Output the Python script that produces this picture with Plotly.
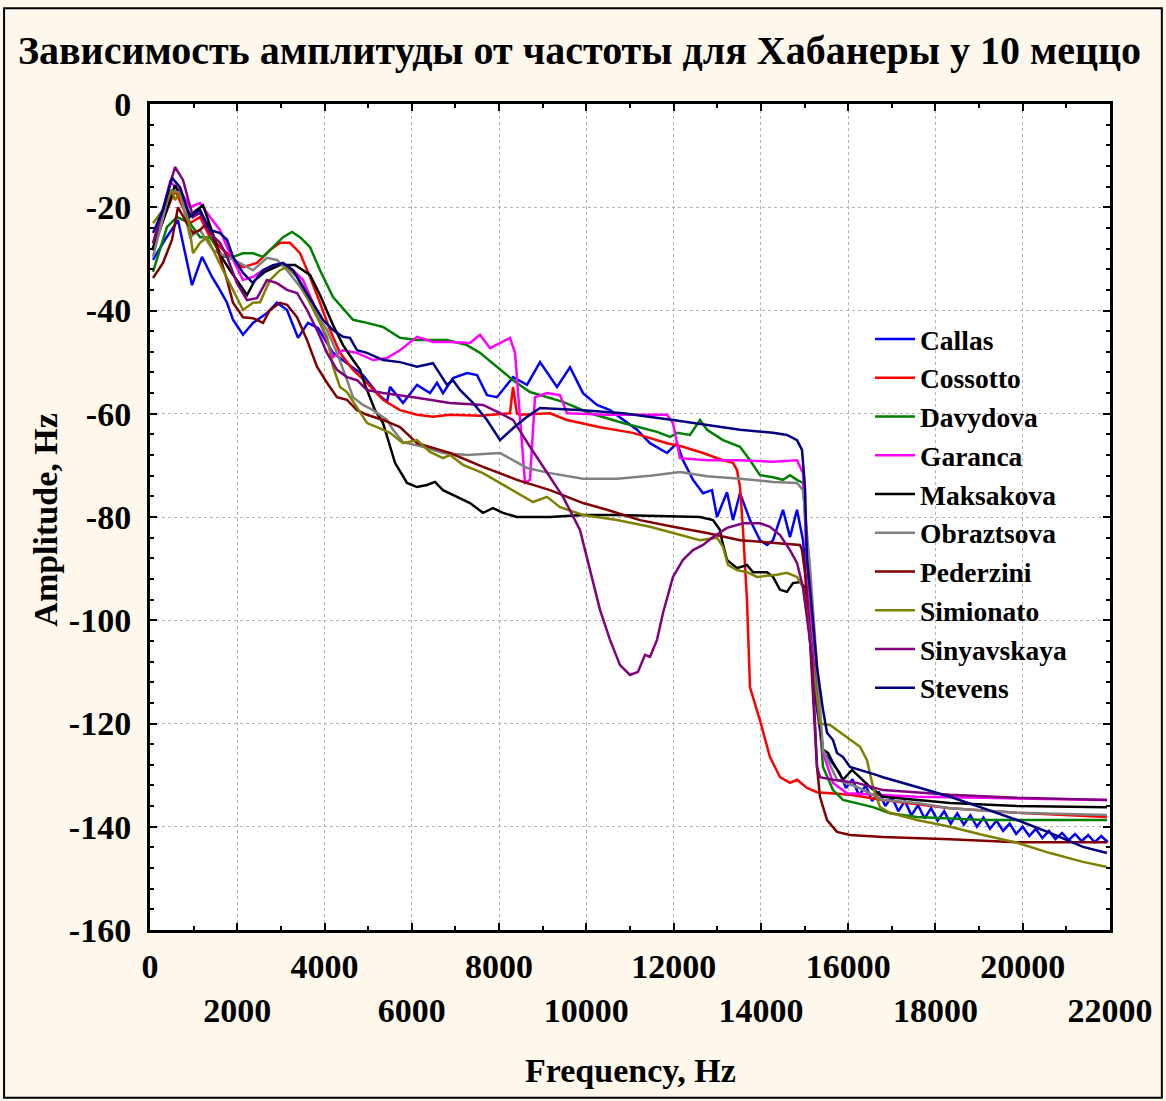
"""Амплитуда от частоты, Хабанера, 10 меццо - перерисовка в plotly."""

import plotly.graph_objects as go

# %%
# данные: (частота, Гц; амплитуда)
callas = [
    (69, -30.2), (344, -26.3), (642, -22.5), (963, -35.1), (1192, -29.6), (1421, -33.5),
    (1558, -35.4), (1765, -38.5), (1902, -41.8), (2131, -44.7), (2360, -42.4), (2681, -40.5),
    (2910, -38.5), (3140, -39.9), (3392, -45.3), (3621, -42.4), (3850, -43.4), (4194, -48.2),
    (4515, -50.2), (4881, -52.5), (5202, -56.0), (5431, -57.7), (5500, -54.8), (5798, -57.9),
    (6119, -54.4), (6417, -56.0), (6577, -54.0), (6715, -56.0), (6944, -53.1), (7265, -52.1),
    (7494, -52.5), (7723, -56.4), (7952, -56.8), (8319, -52.9), (8640, -54.4), (8938, -50.0),
    (9327, -54.8), (9625, -51.0), (9923, -56.0), (10244, -58.3), (10542, -59.3), (10840, -61.2),
    (11160, -63.1), (11458, -65.7), (11848, -67.6), (12077, -65.7), (12215, -69.0), (12444, -72.8),
    (12673, -75.4), (12879, -74.8), (12994, -80.0), (13223, -75.2), (13360, -80.6), (13521, -75.4),
    (13750, -80.6), (13979, -84.5), (14140, -85.4), (14277, -84.5), (14506, -78.6), (14667, -83.9),
    (14827, -78.6), (14965, -84.5), (15056, -94.1), (15125, -103.8), (15194, -111.6),
    (15423, -125.5), (15583, -127.0), (15800, -129.5), (15950, -132.5), (16100, -130.8),
    (16250, -134.0), (16400, -132.0), (16550, -135.0), (16700, -133.2), (16850, -136.0),
    (17000, -134.2), (17150, -137.0), (17300, -135.0), (17450, -137.8), (17600, -135.8),
    (17750, -138.4), (17900, -136.4), (18050, -138.8), (18200, -137.0), (18350, -139.4),
    (18500, -137.4), (18650, -139.6), (18800, -137.8), (18950, -140.0), (19100, -138.2),
    (19250, -140.4), (19400, -138.8), (19550, -140.8), (19700, -139.4), (19850, -141.4),
    (20000, -140.0), (20150, -141.8), (20300, -140.4), (20450, -142.2), (20600, -140.8),
    (20750, -142.4), (20900, -141.2), (21050, -142.6), (21200, -141.4), (21350, -142.8),
    (21500, -141.6), (21650, -143.0), (21800, -141.8), (21950, -143.0),
]
cossotto = [
    (69, -28.3), (344, -21.5), (573, -16.7), (917, -23.1), (1146, -21.9), (1375, -25.8),
    (1604, -27.7), (1765, -28.9), (1902, -30.2), (2131, -31.6), (2452, -30.8), (2750, -28.3),
    (2979, -26.9), (3208, -26.9), (3438, -28.9), (3667, -33.5), (3896, -38.5), (4125, -43.8),
    (4354, -48.2), (4652, -51.5), (4973, -54.0), (5340, -57.3), (5729, -59.3), (6119, -60.2),
    (6485, -60.6), (6875, -60.2), (7563, -60.4), (8021, -60.0), (8250, -59.9), (8319, -54.8),
    (8410, -60.0), (8479, -60.2), (9167, -59.9), (9556, -61.2), (10313, -62.6), (11069, -63.7),
    (11848, -65.7), (12215, -66.4), (12673, -67.6), (13131, -69.0), (13360, -69.5),
    (13452, -70.9), (13521, -74.2), (13590, -82.5), (13681, -96.1), (13750, -113.0),
    (13979, -119.4), (14208, -126.5), (14438, -130.4), (14667, -131.5), (14827, -130.9),
    (15056, -132.5), (15285, -133.3), (16042, -133.8), (16798, -134.8), (18333, -136.4),
    (19869, -137.3), (21931, -138.1),
]
davydova = [
    (69, -32.5), (390, -23.8), (619, -21.9), (917, -23.1), (1146, -25.8), (1375, -25.8),
    (1673, -29.6), (1902, -29.6), (2131, -28.9), (2360, -28.9), (2590, -29.6), (2819, -27.7),
    (3048, -25.8), (3254, -24.8), (3438, -25.8), (3667, -27.7), (3896, -32.2), (4194, -37.4),
    (4515, -40.5), (4652, -41.8), (4973, -42.4), (5340, -43.2), (5729, -45.3), (6119, -45.7),
    (6806, -45.7), (7265, -46.7), (7563, -48.2), (7952, -50.9), (8319, -53.5), (8708, -55.8),
    (9098, -56.8), (9465, -57.7), (10083, -59.9), (10840, -61.8), (11619, -63.5),
    (11917, -64.5), (12077, -63.7), (12375, -64.1), (12604, -61.2), (12765, -63.1),
    (13131, -65.1), (13521, -66.4), (13750, -69.0), (13979, -71.9), (14277, -72.3),
    (14506, -72.8), (14667, -71.9), (14827, -72.8), (14965, -73.4), (15194, -102.5),
    (15423, -128.4), (15652, -132.9), (15881, -134.8), (16202, -135.4), (16569, -136.2),
    (16958, -137.4), (17577, -138.1), (19090, -138.7), (21931, -138.7),
]
garanca = [
    (69, -27.0), (298, -20.5), (458, -15.1), (688, -16.7), (917, -20.0), (1146, -19.2),
    (1375, -21.9), (1604, -24.4), (1765, -27.7), (1902, -30.2), (2131, -34.1), (2360, -33.5),
    (2590, -32.2), (2819, -31.6), (3048, -30.8), (3277, -32.2), (3506, -34.1), (3735, -38.5),
    (3965, -43.8), (4194, -49.0), (4423, -47.7), (4744, -48.2), (5110, -49.6), (5431, -49.2),
    (5729, -47.7), (6119, -45.1), (6485, -46.1), (6875, -46.1), (7333, -46.3), (7563, -44.7),
    (7792, -47.3), (8250, -45.3), (8365, -48.2), (8479, -61.2), (8594, -73.4), (8708, -72.8),
    (8823, -56.8), (9098, -56.0), (9396, -56.4), (9556, -59.9), (10473, -60.2), (11848, -60.2),
    (11985, -61.8), (12146, -68.6), (12765, -69.0), (13521, -69.0), (14277, -69.3),
    (14827, -69.0), (14965, -71.5), (15056, -89.7), (15285, -115.4), (15423, -125.7),
    (15652, -131.5), (15973, -133.5), (17577, -134.2), (19090, -134.4), (21931, -134.8),
]
maksakova = [
    (46, -28.3), (344, -21.5), (573, -15.7), (917, -21.5), (1215, -19.6), (1375, -23.4),
    (1604, -29.2), (1833, -32.2), (2063, -35.1), (2223, -37.0), (2406, -34.1), (2635, -32.5),
    (2979, -31.2), (3323, -31.2), (3667, -33.1), (3896, -37.0), (4194, -42.8), (4423, -46.7),
    (4652, -49.6), (4813, -51.5), (4927, -54.4), (5156, -59.3), (5340, -61.8), (5615, -69.5),
    (5890, -73.4), (6119, -74.2), (6348, -73.8), (6531, -73.2), (6715, -74.8), (7035, -76.1),
    (7333, -77.3), (7631, -79.2), (7860, -78.3), (8090, -79.2), (8410, -80.0), (9167, -80.0),
    (9923, -79.6), (10702, -79.6), (11458, -79.8), (12604, -80.0), (12902, -80.6),
    (13063, -82.5), (13108, -84.5), (13223, -88.3), (13452, -89.9), (13681, -89.3),
    (13819, -90.7), (14140, -90.7), (14277, -91.6), (14438, -94.1), (14598, -94.5),
    (14735, -92.8), (14896, -92.6), (15010, -93.6), (15125, -102.5), (15285, -115.4),
    (15423, -125.1), (15538, -125.7), (15652, -127.6), (15881, -130.9), (16088, -129.0),
    (16271, -130.4), (16500, -132.3), (16798, -134.2), (17577, -134.8), (18333, -135.4),
    (19869, -136.0), (21931, -136.2),
]
obraztsova = [
    (69, -29.6), (298, -22.0), (458, -16.7), (688, -17.2), (917, -25.8), (1146, -24.4),
    (1444, -28.3), (1765, -29.6), (2063, -30.8), (2360, -32.2), (2681, -29.8), (2910, -30.2),
    (3140, -32.2), (3438, -35.4), (3735, -39.3), (4056, -43.8), (4285, -48.2), (4515, -53.5),
    (4652, -56.8), (4881, -58.3), (5110, -59.3), (5431, -61.2), (5569, -63.1), (5798, -65.5),
    (6256, -66.4), (6715, -67.6), (7265, -68.0), (8021, -67.6), (8319, -69.0), (8640, -70.5),
    (9167, -71.5), (9923, -72.6), (10702, -72.6), (11458, -72.0), (12146, -71.3),
    (12765, -72.1), (13521, -72.6), (14277, -73.2), (14827, -73.4), (14965, -74.8),
    (15125, -89.7), (15285, -109.0), (15423, -125.1), (15744, -130.9), (16202, -132.3),
    (16798, -134.8), (17577, -135.4), (18333, -136.4), (19869, -137.3), (21931, -137.7),
]
pederzini = [
    (69, -33.7), (298, -30.8), (504, -26.3), (642, -20.0), (848, -23.1), (985, -25.0),
    (1146, -24.4), (1306, -23.1), (1444, -25.8), (1604, -29.6), (1765, -34.1), (1902, -38.5),
    (2131, -41.3), (2360, -41.5), (2590, -42.4), (2750, -39.9), (2979, -38.5), (3140, -38.9),
    (3369, -41.3), (3598, -45.7), (3827, -50.9), (4056, -54.0), (4285, -56.8), (4515, -57.3),
    (4744, -59.3), (4973, -60.2), (5340, -61.2), (5729, -62.6), (6119, -65.7), (6875, -67.6),
    (7631, -70.3), (8410, -72.8), (9167, -74.8), (9923, -77.3), (10473, -78.6), (11229, -80.6),
    (11985, -81.9), (12765, -83.1), (13521, -84.5), (14277, -85.0), (14896, -85.4),
    (14942, -86.4), (15010, -90.8), (15125, -103.8), (15194, -115.4), (15285, -128.4),
    (15354, -134.2), (15515, -138.7), (15744, -141.0), (16042, -141.6), (16798, -142.0),
    (18333, -142.4), (19869, -143.0), (21931, -143.0),
]
simionato = [
    (69, -23.1), (298, -20.5), (504, -16.7), (573, -18.6), (688, -17.2), (848, -20.5),
    (985, -28.9), (1146, -26.9), (1306, -25.8), (1444, -28.3), (1673, -32.2), (1902, -36.0),
    (2131, -39.9), (2360, -38.5), (2521, -38.4), (2750, -34.1), (2979, -32.2), (3140, -31.6),
    (3369, -33.5), (3598, -37.4), (3827, -41.3), (4056, -45.1), (4194, -50.9), (4354, -54.8),
    (4515, -55.8), (4744, -58.7), (4973, -61.8), (5202, -62.6), (5500, -63.7), (5798, -65.7),
    (6119, -65.1), (6417, -67.4), (6715, -68.6), (6875, -68.0), (7173, -69.9), (7631, -71.5),
    (8021, -73.4), (8410, -75.4), (8777, -77.1), (9098, -76.1), (9396, -78.1), (9923, -79.6),
    (10702, -80.6), (11458, -81.9), (11985, -83.1), (12604, -84.5), (12994, -84.0),
    (13131, -85.8), (13246, -89.3), (13452, -90.3), (13681, -90.7), (13910, -91.6),
    (14369, -91.2), (14598, -90.8), (14827, -91.6), (14965, -93.6), (15125, -103.0),
    (15285, -115.4), (15354, -120.0), (15583, -120.3), (15973, -122.6), (16271, -124.5),
    (16431, -127.1), (16569, -132.3), (16729, -136.2), (16958, -137.3), (17577, -138.7),
    (18333, -140.0), (19090, -141.6), (19869, -143.1), (20625, -145.1), (21381, -146.8),
    (21931, -147.8),
]
sinyavskaya = [
    (69, -27.0), (298, -20.5), (573, -12.2), (756, -14.7), (985, -21.9), (1146, -21.1),
    (1375, -25.0), (1604, -26.9), (1765, -29.6), (1994, -34.7), (2223, -38.0), (2452, -37.6),
    (2681, -34.1), (2910, -34.7), (3140, -36.0), (3369, -36.6), (3598, -39.9), (3827, -43.8),
    (4056, -48.2), (4285, -51.5), (4515, -52.9), (4744, -53.5), (4973, -55.4), (5340, -56.0),
    (5729, -56.4), (6119, -56.9), (6875, -57.9), (7631, -58.3), (8021, -59.9), (8319, -61.2),
    (8708, -66.4), (9098, -71.5), (9465, -76.1), (9854, -82.5), (10083, -90.3),
    (10313, -98.0), (10542, -103.8), (10771, -108.7), (11000, -110.6), (11183, -110.0),
    (11344, -106.7), (11458, -107.1), (11619, -103.8), (11756, -98.6), (11985, -91.6),
    (12215, -88.3), (12444, -86.4), (12673, -85.4), (12902, -83.9), (13223, -82.1),
    (13590, -81.2), (13979, -81.2), (14208, -81.9), (14438, -83.5), (14667, -86.4),
    (14827, -88.9), (14965, -93.6), (15079, -100.5), (15171, -107.1), (15285, -128.4),
    (15354, -130.4), (15652, -130.9), (16202, -131.5), (16798, -132.9), (18333, -133.8),
    (19869, -134.4), (21931, -134.8),
]
stevens = [
    (69, -25.0), (298, -20.5), (504, -14.3), (688, -16.1), (917, -21.9), (1146, -20.5),
    (1375, -24.4), (1604, -25.0), (1765, -26.3), (1902, -29.6), (2131, -32.7), (2360, -34.7),
    (2590, -32.2), (2819, -31.2), (3048, -30.8), (3277, -32.2), (3506, -35.4), (3735, -38.5),
    (3965, -41.8), (4194, -43.8), (4423, -45.1), (4583, -45.3), (4744, -47.7), (4973, -48.2),
    (5340, -49.6), (5729, -50.0), (6119, -50.9), (6485, -50.2), (6806, -54.4), (6944, -53.5),
    (7104, -55.4), (7402, -57.9), (7723, -61.2), (8021, -65.1), (8319, -62.8), (8640, -60.6),
    (8938, -58.9), (9923, -59.3), (10840, -59.9), (11985, -61.2), (12765, -62.2),
    (13521, -63.1), (14277, -63.7), (14598, -64.1), (14827, -65.1), (14942, -67.0),
    (15010, -74.2), (15056, -88.3), (15125, -94.0), (15285, -109.0), (15423, -117.4),
    (15515, -121.8), (15652, -123.2), (15744, -125.7), (15881, -126.5), (16042, -128.4),
    (16660, -130.0), (16798, -130.4), (17577, -132.3), (18333, -134.2), (19090, -136.4),
    (19869, -138.7), (20625, -141.2), (21381, -143.9), (21931, -145.1),
]

singers = ["Callas", "Cossotto", "Davydova", "Garanca", "Maksakova",
           "Obraztsova", "Pederzini", "Simionato", "Sinyavskaya", "Stevens"]
series = [callas, cossotto, davydova, garanca, maksakova,
          obraztsova, pederzini, simionato, sinyavskaya, stevens]
colors = ["#0000FF", "#FF0000", "#008000", "#FF00FF", "#000000",
          "#808080", "#800000", "#808000", "#800080", "#000080"]

x_ticks = list(range(0, 22001, 2000))
y_ticks = list(range(-160, 1, 20))

FONT = "Liberation Serif"
BG = "#FEF8EC"

# %%
fig = go.Figure()
for name, pts, col in zip(singers, series, colors):
    fig.add_trace(
        go.Scatter(
            x=[p[0] for p in pts],
            y=[p[1] for p in pts],
            mode="lines",
            name=name,
            line={"color": col, "width": 2.5},
        )
    )

# подписи по оси x в два ряда, как в оригинале
x_text = [str(v) if i % 2 == 0 else "<br>" + str(v) for i, v in enumerate(x_ticks)]
# обычный дефис вместо длинного минуса
y_text = [str(v) for v in y_ticks]

axis_common = dict(
    showline=True,
    linecolor="black",
    linewidth=3,
    mirror="allticks",
    ticks="inside",
    ticklen=7,
    tickwidth=2,
    tickcolor="black",
    showgrid=True,
    gridcolor="#b4b4b4",
    griddash="dot",
    gridwidth=1,
    zeroline=False,
    automargin=False,
    tickfont={"family": FONT, "size": 34, "color": "black", "weight": "bold"},
)

fig.update_xaxes(
    range=[0, 22000],
    tickvals=x_ticks,
    ticktext=x_text,
    ticklabelstandoff=4,
    minor={"ticks": "inside", "ticklen": 4, "tickwidth": 2, "tickcolor": "black",
           "dtick": 1000, "showgrid": False},
    **axis_common,
)
fig.update_yaxes(
    range=[-160, 0],
    tickvals=y_ticks,
    ticktext=y_text,
    ticklabelstandoff=9,
    minor={"ticks": "inside", "ticklen": 4, "tickwidth": 2, "tickcolor": "black",
           "dtick": 4, "showgrid": False},
    **axis_common,
)

# axis titles as annotations for exact placement
fig.add_annotation(
    text="Frequency, Hz", xref="paper", yref="paper", x=0.5, y=-0.1695,
    xanchor="center", yanchor="middle",
    showarrow=False, font={"family": FONT, "size": 34, "color": "black", "weight": "bold"},
)
fig.add_annotation(
    text="Amplitude, Hz", xref="paper", yref="paper", x=-0.109, y=0.496, textangle=-90,
    xanchor="center", yanchor="middle",
    showarrow=False, font={"family": FONT, "size": 34, "color": "black", "weight": "bold"},
)

# рамка вокруг всей картинки
fig.add_shape(
    type="rect", xref="paper", yref="paper", x0=-0.152, x1=1.054, y0=-0.203, y1=1.116,
    line={"color": "black", "width": 2}, layer="below",
)

fig.update_layout(
    width=1166,
    height=1101,
    margin={"l": 150, "r": 56, "t": 104, "b": 171},
    paper_bgcolor=BG,
    plot_bgcolor="white",
    title={
        "text": "Зависимость амплитуды от частоты для Хабанеры у 10 меццо",
        "x": 0.497, "xanchor": "center", "y": 0.955, "yanchor": "middle",
        "font": {"family": FONT, "size": 40, "color": "black", "weight": "bold"},
    },
    legend={
        "x": 0.75, "y": 0.745, "xanchor": "left", "yanchor": "top",
        "bgcolor": "rgba(0,0,0,0)",
        "font": {"family": FONT, "size": 27.5, "color": "black", "weight": "bold"},
        "tracegroupgap": 0,
        "itemwidth": 40,
    },
    showlegend=True,
)

# убираем отступ body, чтобы картинка легла ровно в окно
fig.write_html(
    "out.html",
    config={"displayModeBar": False},
    post_script="document.body.style.margin='0';"
    "document.body.style.background='" + BG + "';",
)
